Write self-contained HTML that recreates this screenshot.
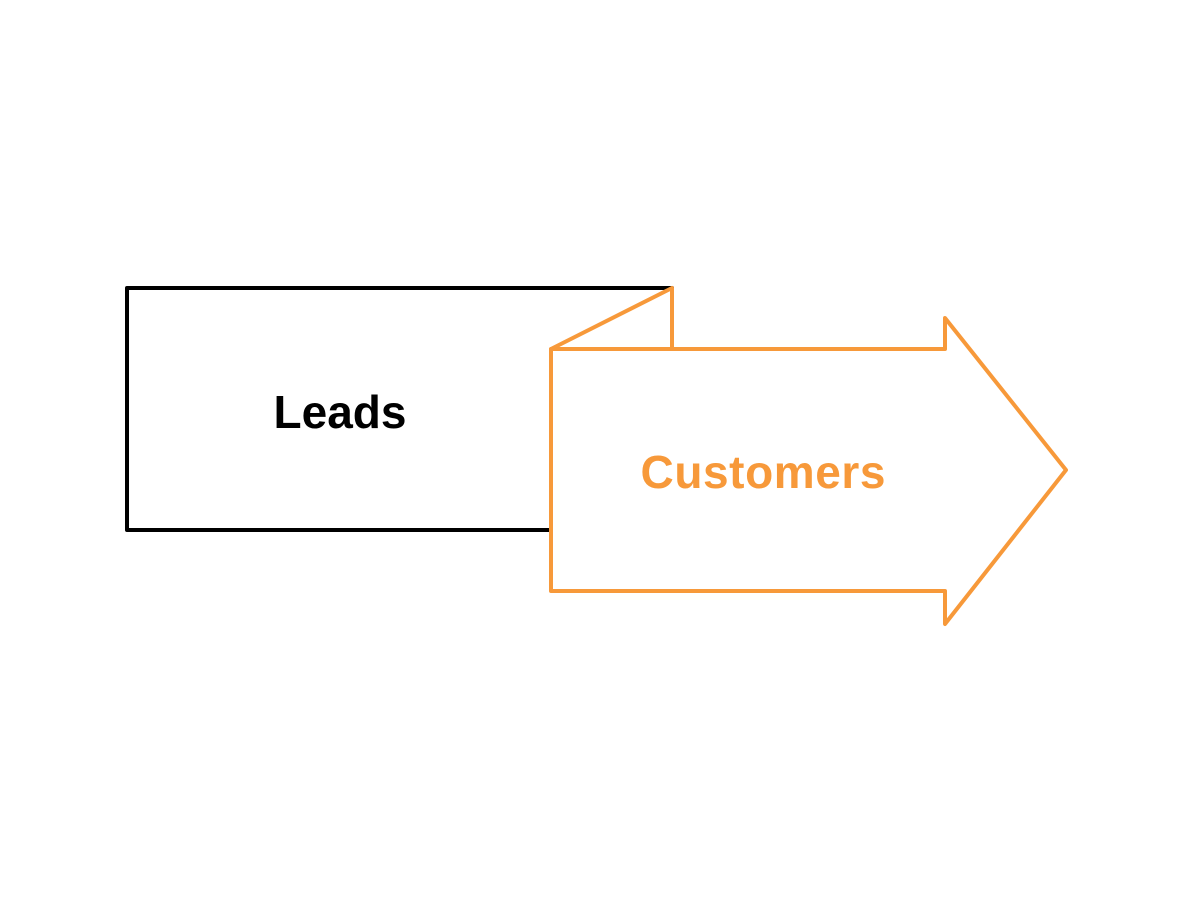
<!DOCTYPE html>
<html><head><style>html,body{margin:0;padding:0;background:#fff;width:1193px;height:912px;overflow:hidden}</style></head>
<body>
<svg width="1193" height="912" viewBox="0 0 1193 912" xmlns="http://www.w3.org/2000/svg">
<rect x="127" y="288" width="545" height="242" fill="#fff" stroke="#000" stroke-width="4" stroke-linejoin="round"/>
<text x="340" y="428" font-family="Liberation Sans, sans-serif" font-weight="bold" font-size="46" text-anchor="middle" fill="#000" textLength="133">Leads</text>
<polygon points="551,349 672,288 672,349" fill="#fff" stroke="#f7993a" stroke-width="4" stroke-linejoin="round"/>
<polygon points="551,349 945,349 945,318 1066,470 945,624 945,591 551,591" fill="#fff" stroke="#f7993a" stroke-width="4" stroke-linejoin="round"/>
<text x="763" y="488" font-family="Liberation Sans, sans-serif" font-weight="bold" font-size="46" text-anchor="middle" fill="#f7993a" textLength="245">Customers</text>
</svg>
</body></html>
